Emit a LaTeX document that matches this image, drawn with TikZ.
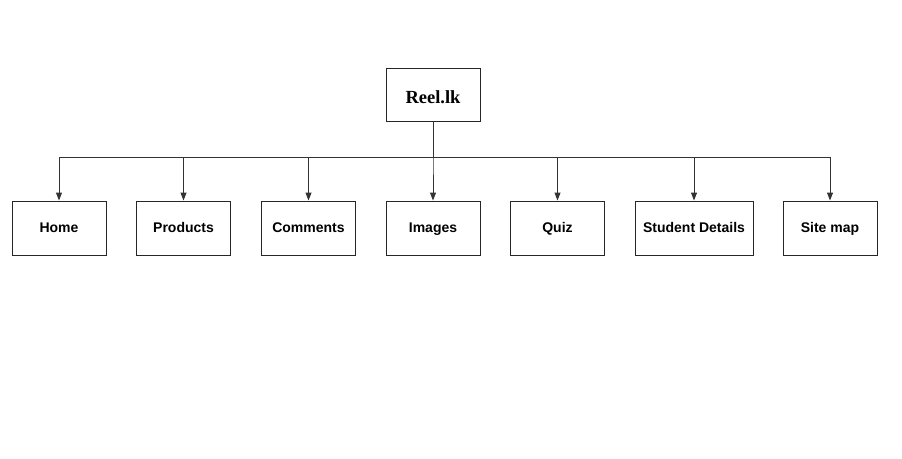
\documentclass[tikz,border=0pt]{standalone}
\usepackage{fontspec}
\setmainfont{Liberation Sans}
\newfontfamily\reelfont{Liberation Serif}
\usetikzlibrary{arrows.meta}
\begin{document}
\begin{tikzpicture}
  [x=1pt,y=-1pt,
   page/.style={draw=black!85,line width=1pt,minimum width=94pt,minimum height=54pt,inner sep=0pt,text height=11.4pt,text depth=2pt,font=\fontsize{14}{16}\selectfont\bfseries},
   link/.style={draw=black!80,line width=1pt,-{Triangle[length=8pt,width=6pt]}}]
\useasboundingbox (0,0) rectangle (902,458);
\node (root)[page,minimum height=53pt,text height=19pt,text depth=2pt,font=\reelfont\fontsize{18.5}{20}\selectfont\bfseries] at (433,94.5) {Reel.lk};
  \node (home)[page] at (59,228) {Home};
  \node (products)[page] at (183.5,228) {Products};
  \node (comments)[page] at (308.5,228) {Comments};
  \node (images)[page] at (433,228) {Images};
  \node (quiz)[page] at (557.5,228) {Quiz};
  \node (details)[page,minimum width=118pt] at (694,228) {Student Details};
  \node (sitemap)[page] at (830,228) {Site map};
\coordinate (bus) at (433,157);

 \foreach \to in {home,products,comments,images,quiz,details,sitemap}
    \draw[link] (root.south) -- (bus) -| (\to.north);
\end{tikzpicture}
\end{document}
